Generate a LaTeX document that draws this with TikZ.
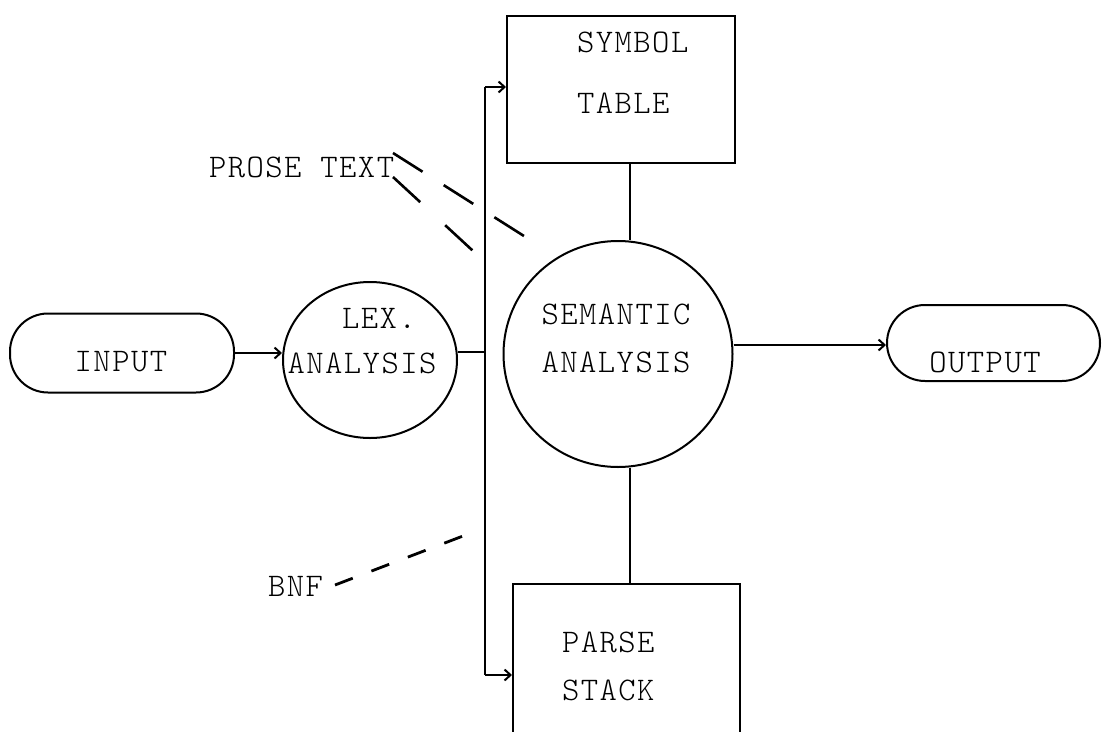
\documentclass[tikz,border=0pt]{standalone}
\usepackage{fontspec}
\newfontfamily\tw[LetterSpace=4.5]{lmmonolt10-regular.otf}
\usetikzlibrary{shapes.geometric,arrows.meta}
\begin{document}
\begin{tikzpicture}[x=1pt,y=-1pt,
  line width=2pt,
  txt/.style={font=\tw\fontsize{33}{33}\selectfont, inner sep=0pt, anchor=center},
  txtl/.style={font=\tw\fontsize{33}{33}\selectfont, inner sep=0pt, anchor=west},
  pill/.style={draw, rectangle, rounded corners=38pt, inner sep=0pt},
  bubble/.style={draw, ellipse, inner sep=0pt},
  box/.style={draw, rectangle, inner sep=0pt},
  arr/.style={-{Straight Barb[length=6pt,width=11pt]}},
  dsh/.style={dash pattern=on 35pt off 25pt, line width=2.6pt},
  dshb/.style={dash pattern=on 19pt off 20pt, line width=2.8pt}]
\useasboundingbox (0,0) rectangle (1103,731);
\fill[white] (0,0) rectangle (1103,731);

% shapes
\node[pill, minimum width=224pt, minimum height=79pt] (in) at (122,353) {};
\node[bubble, minimum width=174pt, minimum height=156pt] (lex) at (370,360) {};
\node[bubble, minimum width=229pt, minimum height=226pt] (sem) at (618,354) {};
\node[box, minimum width=228pt, minimum height=147pt] (sym) at (621,89.5) {};
\node[box, minimum width=227pt, minimum height=160pt] (parse) at (626.5,664) {};
\node[pill, minimum width=213pt, minimum height=76pt] (out) at (993.5,343) {};

% texts
\node[txt] (tin) at (121,362) {INPUT};
\node[txt] (tlex1) at (379,318) {LEX.};
\node[txt] (tlex2) at (362,363) {ANALYSIS};
\node[txt] (tsem1) at (616,314) {SEMANTIC};
\node[txt] (tsem2) at (616,362) {ANALYSIS};
\node[txtl] (tsym1) at (576,42) {SYMBOL};
\node[txtl] (tsym2) at (576,103) {TABLE};
\node[txtl] (tpar1) at (561,642) {PARSE};
\node[txtl] (tpar2) at (561,690) {STACK};
\node[txt] (tout) at (985,362) {OUTPUT};
\node[txtl] (prose) at (208,167) {PROSE TEXT};
\node[txtl] (bnf) at (267,586) {BNF};

% bus
\coordinate (bt) at (485,87);
\coordinate (bb) at (485,675);
\coordinate (bj) at (485,352);
\draw (bt) -- (bb);
\draw[arr] (bt) -- (sym.west |- bt);
\draw[arr] (bb) -- (parse.west |- bb);
\draw (lex.east |- bj) -- (bj);

% other connectors
\draw[arr] (in.east) -- (lex.west |- in.east);
\draw[arr] (sem.east |- 0,345) -- (out.west |- 0,345);
\coordinate (cx) at (630,0);
\draw (sym.south -| cx) -- (cx |- sem.north);
\draw (cx |- sem.south) -- (parse.north -| cx);

% annotation dashed lines
\coordinate (p1a) at (393,153);
\coordinate (p1b) at (535,243);
\coordinate (p2a) at (393,177);
\coordinate (p2b) at (485,262);
\coordinate (b1a) at (335,585);
\coordinate (b1b) at (463,536);
\draw[dsh] (p1a) -- (p1b);
\draw[dsh, dash pattern=on 37pt off 34pt] (p2a) -- (p2b);
\draw[dshb] (b1a) -- (b1b);
\end{tikzpicture}
\end{document}
